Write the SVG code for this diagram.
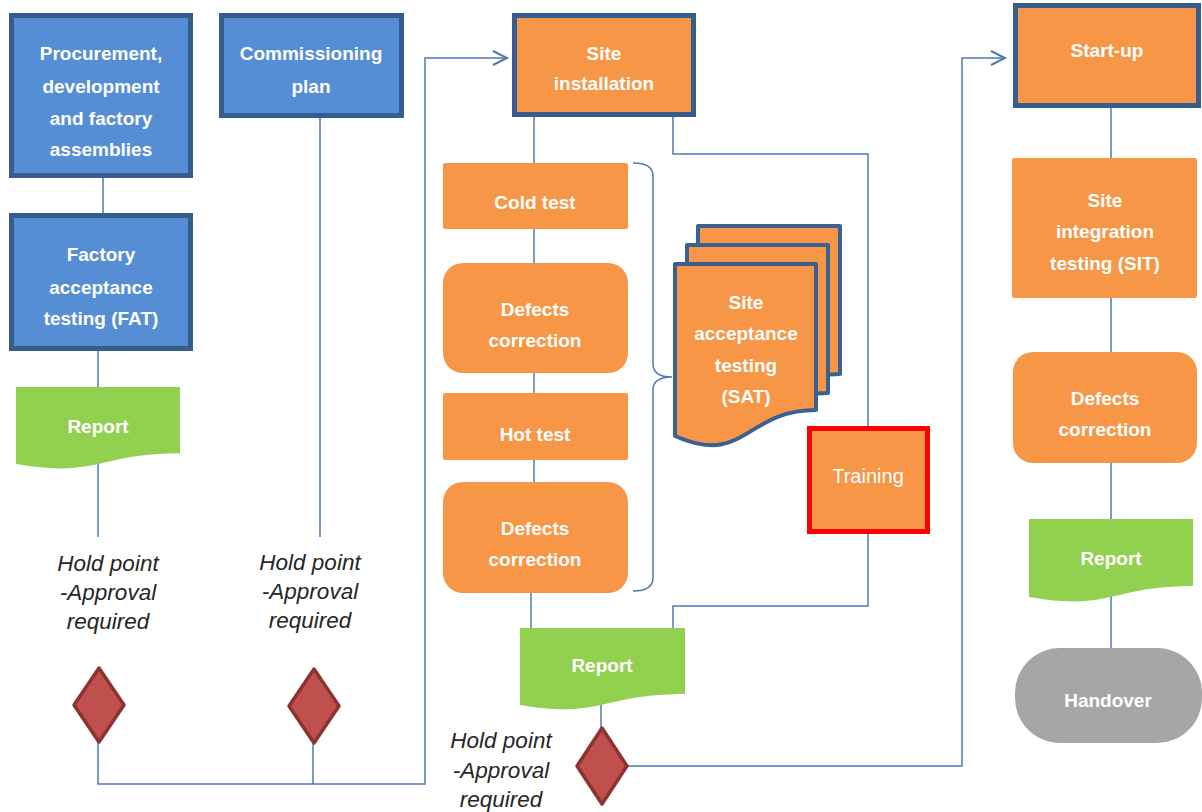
<svg xmlns="http://www.w3.org/2000/svg" width="1202" height="812" viewBox="0 0 1202 812">
<style>
.blue{fill:#558ed5;stroke:#375d8c;stroke-width:5}
.orgb{fill:#f79646;stroke:#375d8c;stroke-width:5}
.org{fill:#f79646}
.grn{fill:#92d050}
.gry{fill:#a6a6a6}
.sat{fill:#f79646;stroke:#3c6090;stroke-width:4;stroke-linejoin:round}
.dia{fill:#c0504d;stroke:#8c3331;stroke-width:3.5;stroke-linejoin:round}
.red{fill:#f79646;stroke:#ff0000;stroke-width:5}
.t{font-family:"Liberation Sans",Arial,sans-serif;font-weight:bold;font-size:19px;fill:#ffffff;text-anchor:middle;dominant-baseline:central}
.tr{font-family:"Liberation Sans",Arial,sans-serif;font-size:20px;fill:#ffffff;text-anchor:middle;dominant-baseline:central}
.h{font-family:"Liberation Sans",Arial,sans-serif;font-style:italic;font-size:22.5px;fill:#262626;text-anchor:middle;dominant-baseline:central}
.c{fill:none;stroke:#4f79b3;stroke-width:1.5}
</style>
<defs>
<marker id="arr" markerUnits="userSpaceOnUse" markerWidth="18" markerHeight="18" refX="15" refY="8" orient="auto">
<path d="M1,1 L15,8 L1,15" fill="none" stroke="#4f79b3" stroke-width="2"/>
</marker>
</defs>

<g id="connectors">
<path class="c" d="M103,178 V213"/>
<path class="c" d="M98,351 V387"/>
<path class="c" d="M98,464 V537"/>
<path class="c" d="M320,118 V537"/>
<path class="c" d="M98,742 V784 H425 V58 H507" marker-end="url(#arr)"/>
<path class="c" d="M313,743 V784"/>
<path class="c" d="M534,117 V163"/>
<path class="c" d="M534,229 V263"/>
<path class="c" d="M534,373 V393"/>
<path class="c" d="M534,460 V482"/>
<path class="c" d="M531,593 V628"/>
<path class="c" d="M673,117 V154 H868 V426"/>
<path class="c" d="M868,534 V606 H673 V628"/>
<path class="c" d="M601,705 V728"/>
<path class="c" d="M627,766 H962 V58 H1005" marker-end="url(#arr)"/>
<path class="c" d="M1111,108 V158"/>
<path class="c" d="M1111,298 V352"/>
<path class="c" d="M1111,463 V519"/>
<path class="c" d="M1111,590 V648"/>
<path class="c" d="M633,163 Q653,163 653,176 V364 Q653,377 672,377 Q653,377 653,390 V578 Q653,591 633,591"/>
</g>

<g id="procurement">
<rect class="blue" x="11.5" y="15.5" width="179" height="160"/>
<text class="t" x="101" y="53">Procurement,</text>
<text class="t" x="101" y="86">development</text>
<text class="t" x="101" y="118">and factory</text>
<text class="t" x="101" y="149">assemblies</text>
</g>
<g id="fat">
<rect class="blue" x="11.5" y="215.5" width="179" height="133"/>
<text class="t" x="101" y="254">Factory</text>
<text class="t" x="101" y="287">acceptance</text>
<text class="t" x="101" y="318">testing (FAT)</text>
</g>
<g id="commissioning">
<rect class="blue" x="221.5" y="15.5" width="180" height="100"/>
<text class="t" x="311" y="53">Commissioning</text>
<text class="t" x="311" y="86">plan</text>
</g>
<g id="report1">
<path class="grn" d="M16,387 H180 V453.2 C98,453.2 98,478.3 16,464.1 Z"/>
<text class="t" x="98" y="426">Report</text>
</g>
<g id="hold1">
<text class="h" x="108" y="563">Hold point</text>
<text class="h" x="108" y="592">-Approval</text>
<text class="h" x="108" y="621">required</text>
</g>
<g id="diamond1"><path class="dia" d="M99,668 L124,705 L99,742 L74,705 Z"/></g>
<g id="hold2">
<text class="h" x="310" y="562">Hold point</text>
<text class="h" x="310" y="591">-Approval</text>
<text class="h" x="310" y="620">required</text>
</g>
<g id="diamond2"><path class="dia" d="M314,669 L339,706 L314,743 L289,706 Z"/></g>

<g id="site-installation">
<rect class="orgb" x="514.5" y="15.5" width="179" height="99"/>
<text class="t" x="604" y="53">Site</text>
<text class="t" x="604" y="83">installation</text>
</g>
<g id="cold-test">
<rect class="org" x="443" y="163" width="185" height="66" rx="2"/>
<text class="t" x="535" y="202">Cold test</text>
</g>
<g id="defects1">
<rect class="org" x="443" y="263" width="185" height="110" rx="20"/>
<text class="t" x="535" y="309">Defects</text>
<text class="t" x="535" y="340">correction</text>
</g>
<g id="hot-test">
<rect class="org" x="443" y="393" width="185" height="67" rx="2"/>
<text class="t" x="535" y="434">Hot test</text>
</g>
<g id="defects2">
<rect class="org" x="443" y="482" width="185" height="111" rx="20"/>
<text class="t" x="535" y="528">Defects</text>
<text class="t" x="535" y="559">correction</text>
</g>
<g id="sat">
<path class="sat" d="M698,226 H840 V374 C769,374 769,431 698,399 Z"/>
<path class="sat" d="M687,245 H828 V393 C757,393 757,450 687,418 Z"/>
<path class="sat" d="M675,264 H816 V410 C745,410 745,467 675,436 Z"/>
<text class="t" x="746" y="302">Site</text>
<text class="t" x="746" y="333">acceptance</text>
<text class="t" x="746" y="365">testing</text>
<text class="t" x="746" y="396">(SAT)</text>
</g>
<g id="training">
<rect class="red" x="809.5" y="428.5" width="118" height="103"/>
<text class="tr" x="868" y="476">Training</text>
</g>
<g id="report2">
<path class="grn" d="M520,628 H685 V694 C602,694 602,719 520,705 Z"/>
<text class="t" x="602" y="665">Report</text>
</g>
<g id="hold3">
<text class="h" x="501" y="740">Hold point</text>
<text class="h" x="501" y="770">-Approval</text>
<text class="h" x="501" y="799">required</text>
</g>
<g id="diamond3"><path class="dia" d="M602,728 L627,766 L602,804 L577,766 Z"/></g>

<g id="start-up">
<rect class="orgb" x="1015.5" y="5.5" width="183" height="100"/>
<text class="t" x="1107" y="50">Start-up</text>
</g>
<g id="sit">
<rect class="org" x="1012" y="158" width="185" height="140" rx="2"/>
<text class="t" x="1105" y="200">Site</text>
<text class="t" x="1105" y="231">integration</text>
<text class="t" x="1105" y="263">testing (SIT)</text>
</g>
<g id="defects3">
<rect class="org" x="1013" y="352" width="184" height="111" rx="20"/>
<text class="t" x="1105" y="398">Defects</text>
<text class="t" x="1105" y="429">correction</text>
</g>
<g id="report3">
<path class="grn" d="M1029,519 H1193 V586 C1111,586 1111,611.4 1029,597 Z"/>
<text class="t" x="1111" y="558">Report</text>
</g>
<g id="handover">
<rect class="gry" x="1015" y="648" width="187" height="95" rx="45"/>
<text class="t" x="1108" y="700">Handover</text>
</g>
</svg>
